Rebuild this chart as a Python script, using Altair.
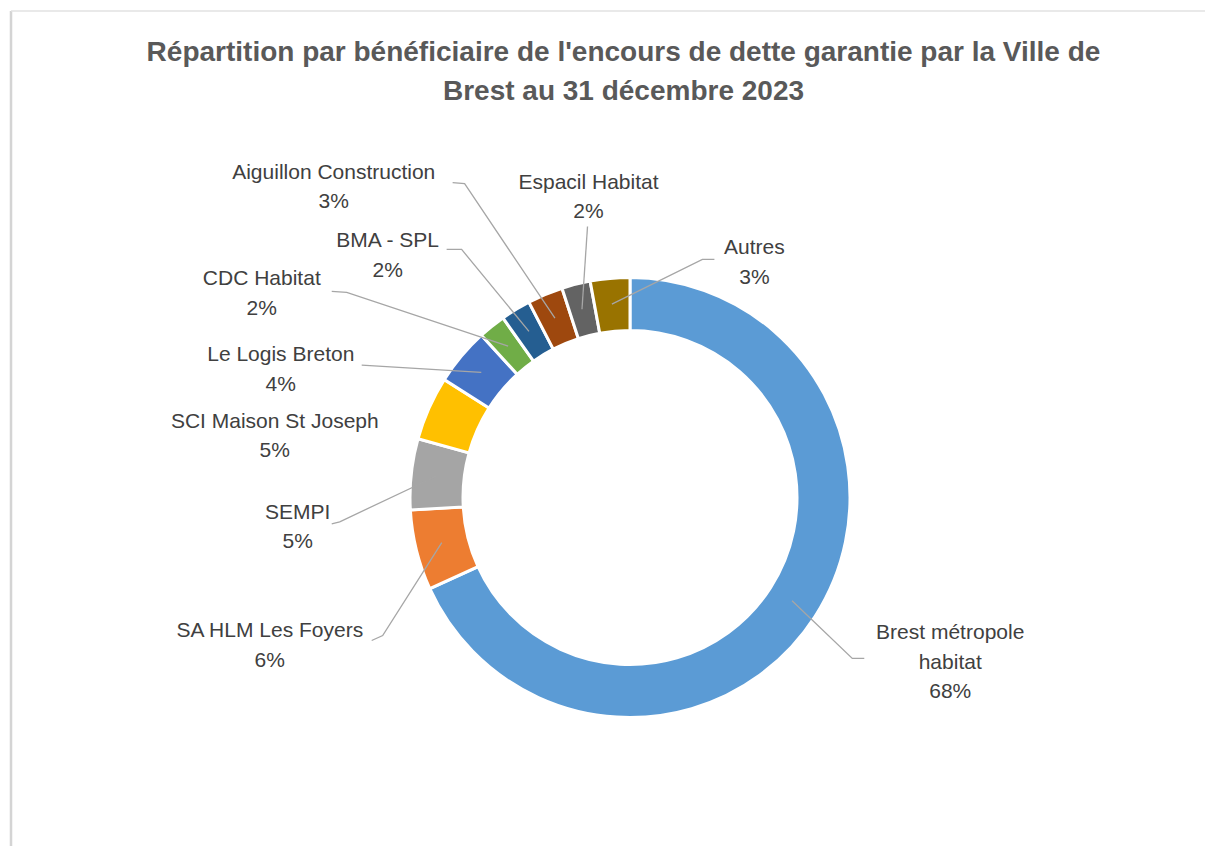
import altair as alt
import pandas as pd
import numpy as np

# ---------------- data ----------------
names = ["Brest métropole habitat", "SA HLM Les Foyers", "SEMPI", "SCI Maison St Joseph",
         "Le Logis Breton", "CDC Habitat", "BMA - SPL", "Aiguillon Construction",
         "Espacil Habitat", "Autres"]
shares = [68.2, 5.9, 5.2, 4.7, 4.2, 2.0, 2.2, 2.6, 2.1, 2.9]
pct_labels = ["68%", "6%", "5%", "5%", "4%", "2%", "2%", "3%", "2%", "3%"]
colors = ["#5B9BD5", "#ED7D31", "#A5A5A5", "#FFC000", "#4472C4", "#70AD47",
          "#255E91", "#9E480E", "#636363", "#997300"]
title_lines = ["Répartition par bénéficiaire de l'encours de dette garantie par la Ville de",
               "Brest au 31 décembre 2023"]

# ---------------- layout (page pixel coordinates) ----------------
W, H = 1197, 838
CX, CY = 630, 497.5
R_OUT, R_IN = 220, 167
name_lines = {"Brest métropole habitat": ["Brest métropole", "habitat"]}
label_pos = [(951, 641), (270, 639), (298, 520), (275, 429), (281, 362),
             (262, 286), (388, 248), (334, 179), (589, 189), (755, 255)]
leader_pts = [[(865, 660), (853, 660)], [(372, 642), (383, 637)], [(332, 525), (340, 523)], [],
              [(362, 366)], [(332, 292), (347, 293)], [(447, 250), (462, 250)],
              [(453, 183), (465, 184)], [(588, 227)], [(715, 260), (703, 260)]]
LINE_H = 29.5
title_y = [61, 100]
title_x = 624
FRAME = 11

xs = alt.Scale(domain=[8, 8 + W], nice=False, zero=False)
ys = alt.Scale(domain=[8, 8 + H], nice=False, zero=False, reverse=True)

# ---------------- frame ----------------
frame_left = alt.Chart(pd.DataFrame({"v": [0]})).mark_rule(color="#D4D4D4", strokeWidth=2.5).encode(
    x=alt.value(FRAME - 8), y=alt.value(FRAME - 8), y2=alt.value(H))
frame_top = alt.Chart(pd.DataFrame({"v": [0]})).mark_rule(color="#E2E2E2", strokeWidth=1.5).encode(
    x=alt.value(FRAME - 8), x2=alt.value(W), y=alt.value(FRAME - 8))

# ---------------- donut ----------------
df = pd.DataFrame({"name": names, "share": shares, "idx": range(len(names))})
arc = alt.Chart(df).mark_arc(innerRadius=R_IN, outerRadius=R_OUT, stroke="white",
                             strokeWidth=3).encode(
    theta=alt.Theta("share:Q", stack=True),
    color=alt.Color("name:N", scale=alt.Scale(domain=names, range=colors), legend=None),
    order=alt.Order("idx:Q"),
    x=alt.value(CX - 8),
    y=alt.value(CY - 8),
)

# ---------------- leader lines ----------------
total = sum(shares)
cum = np.cumsum([0] + shares)
rows = []
r_mid = (R_IN + R_OUT) / 2
for i, n in enumerate(names):
    pts = leader_pts[i]
    if not pts:
        continue
    ang = (cum[i] + shares[i] / 2) / total * 2 * np.pi
    mx, my = CX + r_mid * np.sin(ang), CY - r_mid * np.cos(ang)
    allp = pts + [(mx, my)]
    for k, (px, py) in enumerate(allp):
        rows.append({"lid": n, "k": k, "x": px, "y": py})
ldf = pd.DataFrame(rows)
lines = alt.Chart(ldf).mark_line(color="#A6A6A6", strokeWidth=1.3).encode(
    x=alt.X("x:Q", scale=xs, axis=None),
    y=alt.Y("y:Q", scale=ys, axis=None),
    detail="lid:N",
    order="k:Q",
)

# ---------------- labels ----------------
trows = []
for i, n in enumerate(names):
    lx, ly = label_pos[i]
    txt = name_lines.get(n, [n]) + [pct_labels[i]]
    for j, t in enumerate(txt):
        trows.append({"x": lx, "y": ly + j * LINE_H, "t": t})
tdf = pd.DataFrame(trows)
labels = alt.Chart(tdf).mark_text(font="Liberation Sans", fontSize=21, color="#404040",
                                  align="center", baseline="alphabetic").encode(
    x=alt.X("x:Q", scale=xs, axis=None),
    y=alt.Y("y:Q", scale=ys, axis=None),
    text="t:N",
)

# ---------------- title ----------------
ttl = pd.DataFrame({"x": [title_x] * 2, "y": title_y, "t": title_lines})
title = alt.Chart(ttl).mark_text(font="Liberation Sans", fontSize=28, fontWeight="bold",
                                 color="#595959", align="center", baseline="alphabetic").encode(
    x=alt.X("x:Q", scale=xs, axis=None),
    y=alt.Y("y:Q", scale=ys, axis=None),
    text="t:N",
)

chart = alt.layer(frame_left, frame_top, arc, lines, labels, title).properties(
    width=W, height=H, padding=0,
    autosize=alt.AutoSizeParams(type="fit", contains="padding"),
    background="white",
).configure_view(stroke=None)

chart.save("out.html", embed_options={"renderer": "svg", "actions": False})
